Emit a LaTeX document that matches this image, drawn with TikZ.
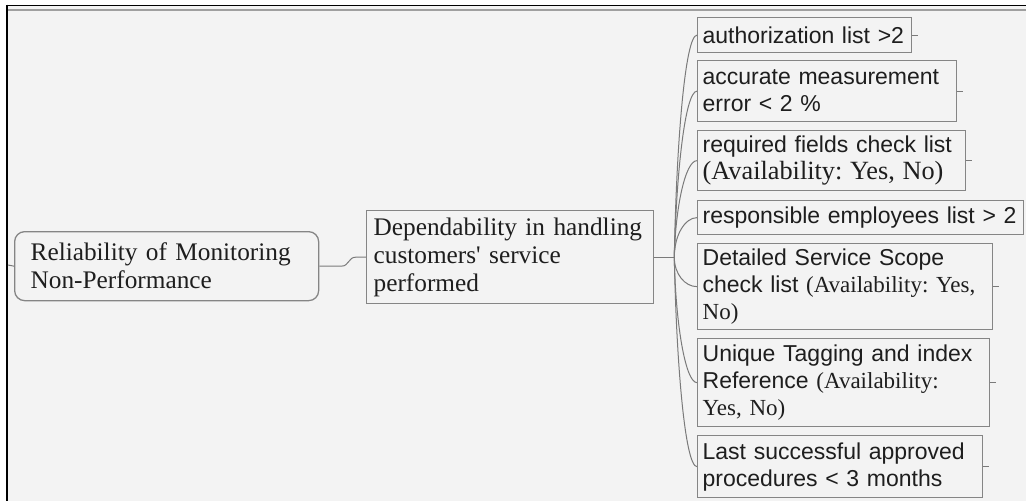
\documentclass[tikz,border=0pt]{standalone}
\usepackage{fontspec}
\setmainfont{Liberation Serif}
\setsansfont{Liberation Sans}
\usetikzlibrary{calc}
\definecolor{pagebg}{HTML}{F3F3F3}
\definecolor{boxline}{HTML}{858585}
\definecolor{linkline}{HTML}{7A7A7A}
\definecolor{ink}{HTML}{1E1E1E}
\frenchspacing
\newcommand\leafsf{\sffamily\fontsize{23}{27}\selectfont}
\newcommand\bigrm{\rmfamily\fontsize{25.3}{28}\selectfont}
\newcommand\midrm{\rmfamily\fontsize{26.3}{28}\selectfont}
% one unbreakable line of a box
\newcommand\row[1]{\mbox{#1}}
\begin{document}
\begin{tikzpicture}[x=1pt,y=-1pt,
  basebox/.style={draw=boxline, line width=1.3pt, fill=pagebg, text=ink,
    anchor=north west, align=left, inner ysep=1pt},
  rootbox/.style={basebox, rounded corners=10pt, inner xsep=16pt, font=\bigrm},
  midbox/.style={basebox, inner xsep=7pt, font=\bigrm},
  leafbox/.style={basebox, inner xsep=5pt, font=\leafsf},
  link/.style={draw=linkline, line width=1pt},
  stub/.style={draw=linkline, line width=1pt}]
\useasboundingbox (0,0) rectangle (1026,501);
% page and frame
\fill[white] (0,0) rectangle (1026,501);
\fill[pagebg] (7,5) rectangle (1026,501);
\draw[black, line width=1.8pt] (6,5.5) -- (1026,5.5);
\draw[gray!75, line width=1.5pt] (8,10) -- (1026,10);
\draw[black, line width=2.2pt] (7,4.6) -- (7,501);

% central topic
\node[rootbox, text width=272pt, minimum height=69pt] (root) at (14,231)
  {\row{Reliability of Monitoring}\\\row{Non-Performance}};
% main branch
\node[midbox, text width=273pt, minimum height=93pt] (dep) at (366,210)
  {\row{Dependability in handling}\\\row{customers\textquotesingle{} service}\\\row{performed}};

% leaves
\node[leafbox, text width=204pt, minimum height=35pt] (l1) at (697,17)
  {\row{authorization list >2}};
\node[leafbox, text width=249pt, minimum height=61pt] (l2) at (697,60)
  {\row{accurate measurement}\\\row{error < 2 \%}};
\node[leafbox, text width=258pt, minimum height=60pt] (l3) at (697,130)
  {\row{required fields check list}\\\row{\midrm (Availability: Yes, No)}};
\node[leafbox, text width=316pt, minimum height=34pt] (l4) at (697,200)
  {\row{responsible employees list > 2}};
\node[leafbox, text width=285pt, minimum height=86pt] (l5) at (697,243)
  {\row{Detailed Service Scope}\\\row{check list {\rmfamily (Availability: Yes,}}\\\row{\rmfamily No)}};
\node[leafbox, text width=282pt, minimum height=88pt] (l6) at (697,338)
  {\row{Unique Tagging and index}\\\row{Reference {\rmfamily (Availability:}}\\\row{\rmfamily Yes, No)}};
\node[leafbox, text width=275pt, minimum height=62pt] (l7) at (697,435)
  {\row{Last successful approved}\\\row{procedures < 3 months}};

% connectors
\coordinate (frameL) at (8,265);
\draw[link] (frameL) -- (root.west);
\draw[link] (root.east) -- ++(22,0) .. controls +(8,0) and +(-8,0)
  .. ($(dep.west)+(-10,0)$) -- (dep.west);
\path (dep.east) ++(20,0) coordinate (J);
\draw[link] (dep.east) -- (J);
\draw[link] (J) .. controls +(2,-111) and +(-12,0) .. (l1.west);
\draw[link] (J) .. controls +(2,-83) and +(-12,0) .. (l2.west);
\draw[link] (J) .. controls +(1,-48) and +(-12,0) .. (l3.west);
\draw[link] (J) .. controls +(0,-22) and +(-12,0) .. (l4.west);
\draw[link] (J) .. controls +(0,17) and +(-12,0) .. (l5.west);
\draw[link] (J) .. controls +(1,63) and +(-12,0) .. (l6.west);
\draw[link] (J) .. controls +(2,105) and +(-12,0) .. (l7.west);

% end stubs
\foreach \n in {l1,l2,l3,l5,l6,l7}
  \draw[stub] (\n.east) -- ++(6,0);
\end{tikzpicture}
\end{document}
